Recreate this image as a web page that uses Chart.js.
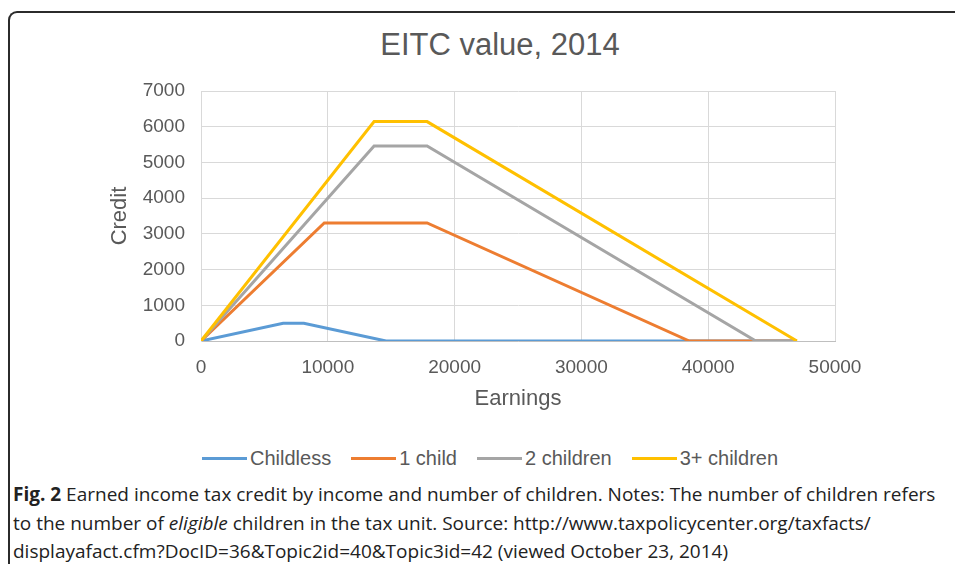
<!DOCTYPE html>
<html>
<head>
<meta charset="utf-8">
<script src="https://cdn.jsdelivr.net/npm/chart.js@4.4.1/dist/chart.umd.min.js"></script>
<style>
  html, body { margin: 0; padding: 0; background: #fff; }
  body { width: 955px; height: 564px; position: relative; overflow: hidden; }
  .frame {
    position: absolute; left: 8px; top: 11px; width: 960px; height: 600px;
    border-top: 2px solid #2b2b2b; border-left: 2px solid #2b2b2b;
    border-top-left-radius: 9px;
  }
  .chart-title {
    position: absolute; left: 300px; width: 400px; top: 26px; text-align: center;
    font-family: "Liberation Sans", Arial, sans-serif; font-size: 31px; line-height: 38px; color: #595959;
  }
  .chart-wrap { position: absolute; left: 0; top: 0; width: 955px; height: 420px; }
  .legend {
    position: absolute; left: 202px; top: 446px; height: 24px; display: flex; align-items: center; gap: 20px;
    font-family: "Liberation Sans", Arial, sans-serif; font-size: 20px; color: #595959;
  }
  .legend .item { display: flex; align-items: center; }
  .legend .swatch { width: 45px; height: 3px; margin-right: 3px; }
  .caption {
    position: absolute; left: 13px; top: 480px; white-space: nowrap;
    font-family: "Open Sans", sans-serif; font-size: 19px; line-height: 28.5px; color: #222;
  }
  .caption b { font-weight: 700; }
</style>
</head>
<body>
<div class="frame"></div>
<div class="chart-title">EITC value, 2014</div>
<div class="chart-wrap"><canvas id="eitc-chart"></canvas></div>
<div class="legend" id="legend"></div>
<div class="caption"><b>Fig. 2</b> Earned income tax credit by income and number of children. Notes: The number of children refers<br>to the number of <i>eligible</i> children in the tax unit. Source: http://www.taxpolicycenter.org/taxfacts/<br>displayafact.cfm?DocID=36&amp;Topic2id=40&amp;Topic3id=42 (viewed October 23, 2014)</div>

<script>
// EITC schedule breakpoints (earnings) and credit at each point
const seriesNames = ['Childless', '1 child', '2 children', '3+ children'];
const childlessEarnings = [0, 6480, 8110, 14590, 46997];
const childlessCredit = [0, 496, 496, 0, 0];
const oneChildEarnings = [0, 9720, 17830, 38511, 46997];
const oneChildCredit = [0, 3305, 3305, 0, 0];
const twoChildEarnings = [0, 13650, 17830, 43756, 46997];
const twoChildCredit = [0, 5460, 5460, 0, 0];
const threeChildEarnings = [0, 13650, 17830, 46997];
const threeChildCredit = [0, 6143, 6143, 0];
const xTicks = [0, 10000, 20000, 30000, 40000, 50000];
const yTicks = [0, 1000, 2000, 3000, 4000, 5000, 6000, 7000];

const colors = ['#5B9BD5', '#ED7D31', '#A5A5A5', '#FFC000'];
const textColor = '#595959';
const fontFamily = '"Liberation Sans", Arial, sans-serif';

const toPoints = (xs, ys) => xs.map((x, i) => ({ x: x, y: ys[i] }));
const allSeries = [
    toPoints(childlessEarnings, childlessCredit),
    toPoints(oneChildEarnings, oneChildCredit),
    toPoints(twoChildEarnings, twoChildCredit),
    toPoints(threeChildEarnings, threeChildCredit),
];

const datasets = allSeries.map((pts, i) => ({
    label: seriesNames[i],
    data: pts,
    borderColor: colors[i],
    backgroundColor: colors[i],
    borderWidth: 3,
    pointRadius: 0,
    tension: 0,
    order: allSeries.length - 1 - i // later series on top, like Excel
}));

const chart = new Chart(document.getElementById('eitc-chart'), {
    type: 'line',
    data: { datasets: datasets },
    options: {
        responsive: true,
        maintainAspectRatio: false,
        animation: false,
        layout: { padding: { left: 107, right: 120, top: 91, bottom: 8 } },
        plugins: {
            title: { display: false },
            legend: { display: false },
            tooltip: { enabled: false }
        },
        scales: {
            x: {
                type: 'linear',
                min: 0,
                max: 50000,
                afterBuildTicks: axis => { axis.ticks = xTicks.map(v => ({ value: v })); },
                afterFit: axis => { axis.height = 71; },
                ticks: {
                    color: textColor,
                    font: { family: fontFamily, size: 19 },
                    padding: 15,
                    maxRotation: 0,
                    callback: v => String(v)
                },
                grid: { color: '#D9D9D9', drawTicks: false },
                border: { color: '#BFBFBF' },
                title: {
                    display: true,
                    text: 'Earnings',
                    color: textColor,
                    font: { family: fontFamily, size: 22 },
                    padding: { top: 0, bottom: 0 }
                }
            },
            y: {
                min: 0,
                max: 7000,
                afterBuildTicks: axis => { axis.ticks = yTicks.map(v => ({ value: v })); },
                afterFit: axis => { axis.width = 94; },
                ticks: {
                    color: textColor,
                    font: { family: fontFamily, size: 19 },
                    padding: 16,
                    callback: v => String(v)
                },
                grid: { color: '#D9D9D9', drawTicks: false },
                border: { color: '#D9D9D9' },
                title: {
                    display: true,
                    text: 'Credit',
                    color: textColor,
                    font: { family: fontFamily, size: 22 },
                    padding: { top: 0, bottom: 0 }
                }
            }
        }
    }
});

// legend built from the chart's own datasets
const legendEl = document.getElementById('legend');
chart.data.datasets.forEach(ds => {
    const item = document.createElement('div');
    item.className = 'item';
    const swatch = document.createElement('span');
    swatch.className = 'swatch';
    swatch.style.background = ds.borderColor;
    const label = document.createElement('span');
    label.textContent = ds.label;
    item.appendChild(swatch);
    item.appendChild(label);
    legendEl.appendChild(item);
});
</script>
</body>
</html>
